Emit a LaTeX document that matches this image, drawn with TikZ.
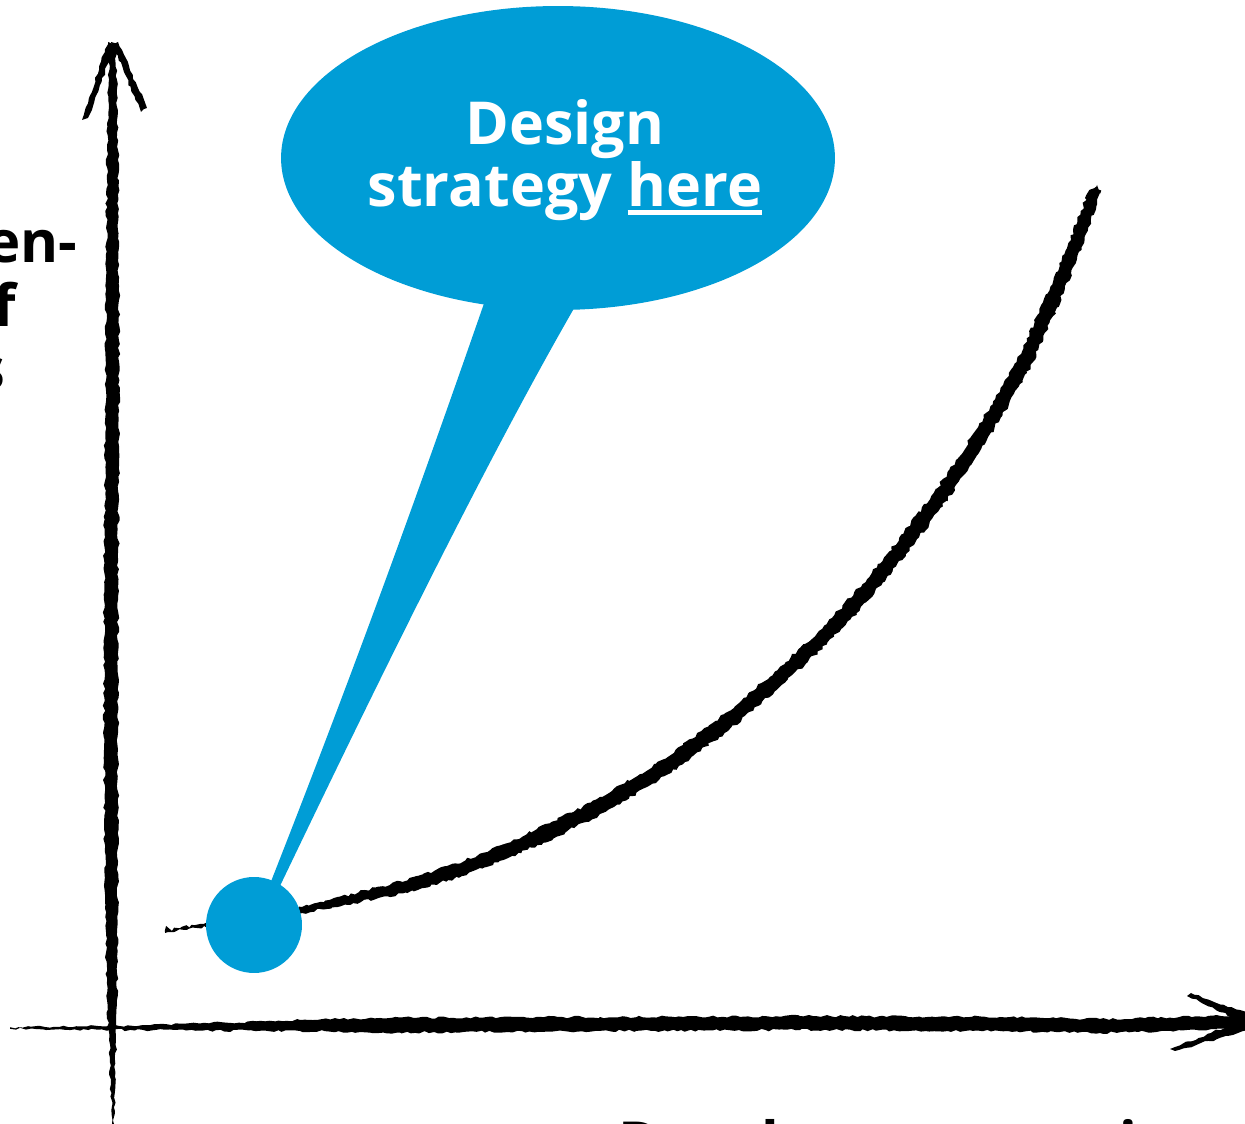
\documentclass[tikz,border=0pt]{standalone}
\usepackage{fontspec}
\setmainfont{Open Sans}
\usetikzlibrary{shapes.geometric,decorations.pathmorphing}
\definecolor{brandblue}{RGB}{0,157,214}
\newsavebox\ulbox
\newcommand{\ulword}[1]{\sbox\ulbox{#1}\rlap{\rule[-0.13em]{\wd\ulbox}{0.085em}}\usebox\ulbox}
\begin{document}
\pgfmathsetseed{7}
\begin{tikzpicture}[x=0.02cm,y=-0.02cm,
  brush/.style={fill=black, decorate,
    decoration={random steps, segment length=2.5pt, amplitude=0.7pt}},
  roughbrush/.style={fill=black, decorate,
    decoration={random steps, segment length=2pt, amplitude=0.9pt}},
  lbl/.style={font=\fontsize{33}{40}\selectfont\bfseries, inner sep=0pt, text=black},
  title/.style={font=\fontsize{33.7}{40}\selectfont\bfseries, inner sep=0pt, text=white}]
\useasboundingbox (0,0) rectangle (1245,1124);
\clip (0,0) rectangle (1245,1124);

% vertical axis (brush stroke)
\fill[brush] (109,48) -- (107,150) -- (106,300) -- (105,450) -- (104,600) -- (104,750)
  -- (105,900) -- (107,1000) -- (109,1040) -- (112,1124) -- (114,1124) -- (116,1040)
  -- (117,1000) -- (118,900) -- (118,750) -- (118,600) -- (119,450) -- (119,300)
  -- (118,150) -- (116,48) -- cycle;
% vertical arrow head
\fill[brush] (108,42) -- (115,45) -- (88,118) -- (82,120) -- cycle;
\fill[brush] (111,42) -- (118,42) -- (147,108) -- (141,112) -- cycle;

% horizontal axis (brush stroke)
\fill[brush] (10,1027.2) -- (60,1026.8) -- (110,1026) -- (200,1023.5) -- (300,1020)
  -- (400,1017.5) -- (600,1017) -- (800,1016) -- (1000,1017) -- (1100,1019)
  -- (1200,1016.5) -- (1245,1015.5) -- (1245,1026.5) -- (1200,1030.5) -- (1100,1033)
  -- (1000,1031) -- (800,1030) -- (600,1031) -- (400,1032.5) -- (300,1031)
  -- (200,1030.5) -- (110,1030) -- (60,1029.2) -- (10,1028.8) -- cycle;
% horizontal arrow head
\fill[brush] (1187,996) -- (1191,993) -- (1248,1013) -- (1248,1024) -- cycle;
\fill[brush] (1170,1049) -- (1175,1051) -- (1248,1030) -- (1248,1018) -- cycle;

% rising curve
\fill[roughbrush] plot[smooth] coordinates {(164.8,931.0) (209.7,922.2) (299.3,906.6)
  (358.8,892.2) (418.1,875.8) (477.5,855.5) (536.8,829.2) (596.4,799.4) (655.9,763.7)
  (715.4,721.0) (775.0,671.4) (834.2,615.2) (884.0,557.5) (933.6,493.1) (973.4,433.4)
  (1013.1,367.0) (1042.9,302.5) (1068.3,243.0) (1089.4,189.9)}
  -- (1097,185)
  -- plot[smooth] coordinates {(1100.6,194.1) (1081.7,247.0) (1057.1,307.5)
  (1026.9,373.0) (986.6,440.6) (946.4,500.9) (896.0,566.5) (845.8,624.8) (785.0,682.6)
  (724.6,733.0) (664.1,776.3) (603.6,812.6) (543.2,842.8) (482.5,868.5) (421.9,888.2)
  (361.2,901.9) (300.7,913.4) (210.3,925.8) (165.2,933.0)} -- cycle;

% speech bubble with its pointer
\node[ellipse, fill=brandblue, minimum width=11.08cm, minimum height=6.08cm,
  inner sep=0pt] (bubble) at (558,158) {};
\node[circle, fill=brandblue, minimum size=1.92cm, inner sep=0pt] (dot) at (254,925) {};
\coordinate (tailL) at (488,292);
\coordinate (tailR) at (580,298);
\coordinate (tipL) at (270,884);
\coordinate (tipR) at (280,886);
\fill[brandblue] (tailL) .. controls (440,430) and (370,630) .. (tipL)
  -- (tipR) .. controls (350,740) and (480,470) .. (tailR) -- cycle;

% bubble text
\node[title, anchor=base] (t1) at (565,145) {Design};
\node[title, anchor=base] (t2) at (565,207) {strategy \ulword{here}};

% axis labels
\node[lbl, anchor=base east] (y1) at (78,263) {en-};
\node[lbl, anchor=base east] (y2) at (16,327) {f};
\node[lbl, anchor=base east] (y3) at (6,390) {s};
\node[lbl, anchor=base west] (xl) at (618,1163) {Development project};
\end{tikzpicture}
\end{document}
